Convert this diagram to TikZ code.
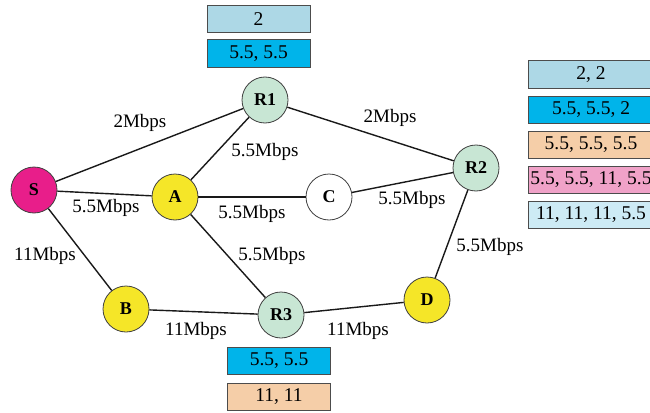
\documentclass[tikz,border=0pt]{standalone}
\usepackage{fontspec}
\setmainfont{Liberation Serif}
\begin{document}
\begin{tikzpicture}[x=1pt,y=-1pt,
  nd/.style={circle,draw=black!75,line width=0.8pt,minimum size=46pt,inner sep=0pt,font=\fontsize{18}{19}\selectfont\bfseries},
  lk/.style={line width=1.4pt,black!90},
  lbl/.style={font=\fontsize{19}{21}\selectfont,inner sep=0pt},
  bx/.style={draw=black!70,line width=1pt,minimum width=103pt,minimum height=27pt,inner sep=0pt,font=\fontsize{19.5}{21}\selectfont},
  rbx/.style={bx,minimum width=126pt}]
\definecolor{cS}{RGB}{232,30,138}
\definecolor{cY}{RGB}{245,230,40}
\definecolor{cR}{RGB}{200,230,212}
\definecolor{bA}{RGB}{173,216,230}
\definecolor{bB}{RGB}{0,180,234}
\definecolor{bC}{RGB}{245,206,168}
\definecolor{bD}{RGB}{240,162,200}
\definecolor{bE}{RGB}{205,235,245}
\useasboundingbox (0,0) rectangle (650,412);
\begin{scope}
\clip (0,0) rectangle (650,412);
\node[nd,fill=cS] (S) at (34,190) {S};
\node[nd,fill=cR] (R1) at (265,100) {R1};
\node[nd,fill=cY] (A) at (175,197) {A};
\node[nd,fill=white] (C) at (329,197) {C};
\node[nd,fill=cR] (R2) at (476,168) {R2};
\node[nd,fill=cY] (B) at (126,309) {B};
\node[nd,fill=cR] (R3) at (281,315) {R3};
\node[nd,fill=cY] (D) at (427,300) {D};
\draw[lk] (S) -- (R1);
\draw[lk] (S) -- (A);
\draw[lk] (S) -- (B);
\draw[lk] (A) -- (R1);
\draw[lk] (A) -- (C);
\draw[lk] (A) -- (R3);
\draw[lk] (R1) -- (R2);
\draw[lk] (C) -- (R2);
\draw[lk] (R2) -- (D);
\draw[lk] (B) -- (R3);
\draw[lk] (R3) -- (D);
\node[lbl] (l1) at (140,123) {2Mbps};
\node[lbl] (l2) at (265,152) {5.5Mbps};
\node[lbl] (l3) at (390,118) {2Mbps};
\node[lbl] (l4) at (106,208) {5.5Mbps};
\node[lbl] (l5) at (252,214) {5.5Mbps};
\node[lbl] (l6) at (412,200) {5.5Mbps};
\node[lbl] (l7) at (45,256) {11Mbps};
\node[lbl] (l8) at (272,256) {5.5Mbps};
\node[lbl] (l9) at (490,247) {5.5Mbps};
\node[lbl] (l10) at (196,331) {11Mbps};
\node[lbl] (l11) at (358,331) {11Mbps};
\node[bx,fill=bA] (t1) at (258.5,19.5) {2};
\node[bx,fill=bB] (t2) at (258.5,53.5) {5.5, 5.5};
\node[bx,fill=bB] (b1) at (279,361) {5.5, 5.5};
\node[bx,fill=bC] (b2) at (279,396.5) {11, 11};
\node[rbx,fill=bA] (r1) at (591,74.5) {2, 2};
\node[rbx,fill=bB] (r2) at (591,109.5) {5.5, 5.5, 2};
\node[rbx,fill=bC] (r3) at (591,144.5) {5.5, 5.5, 5.5};
\node[rbx,fill=bD] (r4) at (591,179.5) {5.5, 5.5, 11, 5.5};
\node[rbx,fill=bE] (r5) at (591,214.5) {11, 11, 11, 5.5};
\end{scope}
\end{tikzpicture}
\end{document}
